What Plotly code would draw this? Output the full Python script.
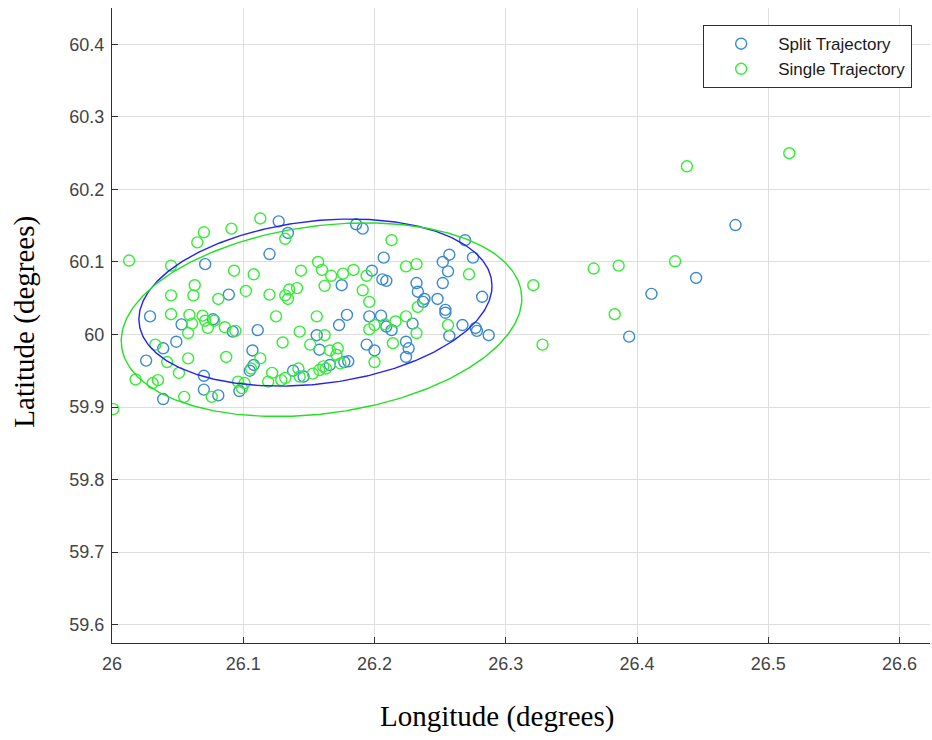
import numpy as np
import plotly.graph_objects as go

# Split trajectory end points (longitude, latitude in degrees)
split_lon = [26.071, 26.089, 26.029, 26.053, 26.077, 26.092, 26.039, 26.049, 26.026, 26.070,
             26.070, 26.081, 26.039, 26.127, 26.134, 26.120, 26.186, 26.191, 26.175, 26.198,
             26.179, 26.173, 26.111, 26.156, 26.158, 26.177, 26.180, 26.107, 26.108, 26.105,
             26.138, 26.146, 26.166, 26.097, 26.207, 26.206, 26.209, 26.252, 26.257, 26.256,
             26.252, 26.269, 26.275, 26.232, 26.233, 26.238, 26.248, 26.282, 26.254, 26.196,
             26.205, 26.209, 26.213, 26.229, 26.237, 26.254, 26.267, 26.257, 26.277, 26.278,
             26.287, 26.194, 26.200, 26.224, 26.226, 26.224, 26.475, 26.445, 26.411, 26.394]
split_lat = [60.097, 60.055, 60.025, 60.014, 60.021, 60.004, 59.981, 59.990, 59.964, 59.943,
             59.924, 59.916, 59.911, 60.156, 60.140, 60.111, 60.152, 60.146, 60.068, 60.088,
             60.027, 60.013, 60.006, 59.999, 59.979, 59.962, 59.963, 59.978, 59.958, 59.950,
             59.950, 59.942, 59.958, 59.922, 60.106, 60.076, 60.074, 60.100, 60.110, 60.087,
             60.071, 60.130, 60.106, 60.071, 60.059, 60.049, 60.049, 60.052, 60.034, 60.025,
             60.026, 60.011, 60.006, 60.015, 60.045, 60.030, 60.013, 59.998, 60.009, 60.005,
             59.999, 59.986, 59.978, 59.990, 59.981, 59.969, 60.151, 60.078, 60.056, 59.997]

# Single trajectory end points (longitude, latitude in degrees)
single_lon = [26.013, 26.045, 26.070, 26.065, 26.091, 26.093, 26.063, 26.062, 26.045, 26.081,
              26.045, 26.059, 26.061, 26.069, 26.071, 26.073, 26.078, 26.058, 26.086, 26.094,
              26.033, 26.042, 26.058, 26.087, 26.051, 26.018, 26.035, 26.031, 26.076, 26.055,
              26.001, 26.113, 26.132, 26.157, 26.160, 26.167, 26.176, 26.184, 26.162, 26.144,
              26.108, 26.102, 26.120, 26.132, 26.135, 26.141, 26.134, 26.191, 26.194, 26.125,
              26.156, 26.143, 26.162, 26.130, 26.151, 26.166, 26.172, 26.171, 26.174, 26.113,
              26.106, 26.122, 26.142, 26.143, 26.153, 26.158, 26.161, 26.163, 26.119, 26.129,
              26.132, 26.096, 26.101, 26.099, 26.213, 26.224, 26.232, 26.272, 26.196, 26.233,
              26.200, 26.208, 26.216, 26.224, 26.196, 26.232, 26.256, 26.214, 26.200, 26.516,
              26.438, 26.429, 26.367, 26.386, 26.321, 26.383, 26.328]
single_lat = [60.102, 60.095, 60.141, 60.127, 60.146, 60.088, 60.068, 60.054, 60.054, 60.049,
              60.028, 60.027, 60.015, 60.026, 60.019, 60.009, 60.019, 60.002, 60.010, 60.005,
              59.986, 59.962, 59.967, 59.969, 59.947, 59.938, 59.937, 59.933, 59.914, 59.914,
              59.897, 60.160, 60.132, 60.100, 60.089, 60.081, 60.084, 60.089, 60.067, 60.088,
              60.083, 60.060, 60.055, 60.054, 60.062, 60.064, 60.049, 60.061, 60.081, 60.025,
              60.025, 60.004, 59.999, 59.989, 59.986, 59.978, 59.981, 59.972, 59.960, 59.967,
              59.953, 59.947, 59.953, 59.942, 59.946, 59.951, 59.956, 59.953, 59.935, 59.937,
              59.940, 59.935, 59.933, 59.926, 60.130, 60.094, 60.097, 60.083, 60.045, 60.038,
              60.013, 60.014, 60.018, 60.025, 60.007, 60.002, 60.013, 59.988, 59.962, 60.250,
              60.232, 60.101, 60.091, 60.095, 60.068, 60.028, 59.986]

# Spread ellipses: centre (lon, lat), half extent (lon, lat), lon/lat correlation
split_center = [26.155, 60.044]
split_half = [0.1345, 0.1152]
split_rho = 0.20
single_center = [26.1596, 60.0204]
single_half = [0.1526, 0.1335]
single_rho = 0.22

x_ticks = [26, 26.1, 26.2, 26.3, 26.4, 26.5, 26.6]
y_ticks = [59.6, 59.7, 59.8, 59.9, 60, 60.1, 60.2, 60.3, 60.4]

BLUE_MARK = "#3a8ad0"
GREEN_MARK = "#33ee33"
BLUE_LINE = "#2424f0"
GREEN_LINE = "#22e022"
AXIS_COL = "#303030"
TICK_FONT = dict(family="Liberation Sans, Arial, sans-serif", size=18, color="#444444")
TITLE_FONT = dict(family="Liberation Serif, Times New Roman, serif", size=29, color="#000000")


def ellipse(center, half, rho, n=400):
    t = np.linspace(0, 2 * np.pi, n)
    x = center[0] + half[0] * np.cos(t)
    y = center[1] + half[1] * (rho * np.cos(t) + np.sqrt(1 - rho ** 2) * np.sin(t))
    return x, y


fig = go.Figure()
fig.add_trace(go.Scatter(
    x=split_lon, y=split_lat, mode="markers", name="Split Trajectory",
    marker=dict(symbol="circle-open", size=11, color=BLUE_MARK, line=dict(width=1.4)),
))
fig.add_trace(go.Scatter(
    x=single_lon, y=single_lat, mode="markers", name="Single Trajectory",
    marker=dict(symbol="circle-open", size=11, color=GREEN_MARK, line=dict(width=1.4)),
))

ex, ey = ellipse(split_center, split_half, split_rho)
fig.add_trace(go.Scatter(x=ex, y=ey, mode="lines", showlegend=False, hoverinfo="skip",
                         line=dict(color=BLUE_LINE, width=1.4)))
ex, ey = ellipse(single_center, single_half, single_rho)
fig.add_trace(go.Scatter(x=ex, y=ey, mode="lines", showlegend=False, hoverinfo="skip",
                         line=dict(color=GREEN_LINE, width=1.4)))

axis_common = dict(
    showgrid=True, gridcolor="#dedede", gridwidth=1, zeroline=False,
    showline=True, linecolor=AXIS_COL, linewidth=1.2, mirror=False,
    ticks="inside", ticklen=6, tickcolor=AXIS_COL, tickwidth=1,
    tickfont=TICK_FONT,
)

fig.update_xaxes(range=[26.0, 26.6232], tickvals=x_ticks,
                 ticktext=[f"{v:g}" for v in x_ticks], ticklabelstandoff=4, **axis_common)
fig.update_yaxes(range=[59.5745, 60.4503], tickvals=y_ticks,
                 ticktext=[f"{v:g}" for v in y_ticks], ticklabelstandoff=3, **axis_common)

fig.add_annotation(text="Longitude (degrees)", xref="paper", yref="paper",
                   x=0.4707, y=-0.115, xanchor="center", yanchor="middle",
                   showarrow=False, font=TITLE_FONT)
fig.add_annotation(text="Latitude (degrees)", xref="paper", yref="paper",
                   x=-0.1064, y=0.506, xanchor="center", yanchor="middle",
                   textangle=-90, showarrow=False, font=TITLE_FONT)

fig.update_layout(
    width=932, height=740,
    margin=dict(l=112, r=2, t=8, b=97),
    plot_bgcolor="white", paper_bgcolor="white",
    showlegend=True,
    legend=dict(
        x=0.7227, y=0.973, xanchor="left", yanchor="top",
        bgcolor="white", bordercolor=AXIS_COL, borderwidth=1,
        font=dict(family="Liberation Sans, Arial, sans-serif", size=17, color="#1a1a1a"),
        itemwidth=64, tracegroupgap=0,
    ),
)

fig.write_html("out.html")
